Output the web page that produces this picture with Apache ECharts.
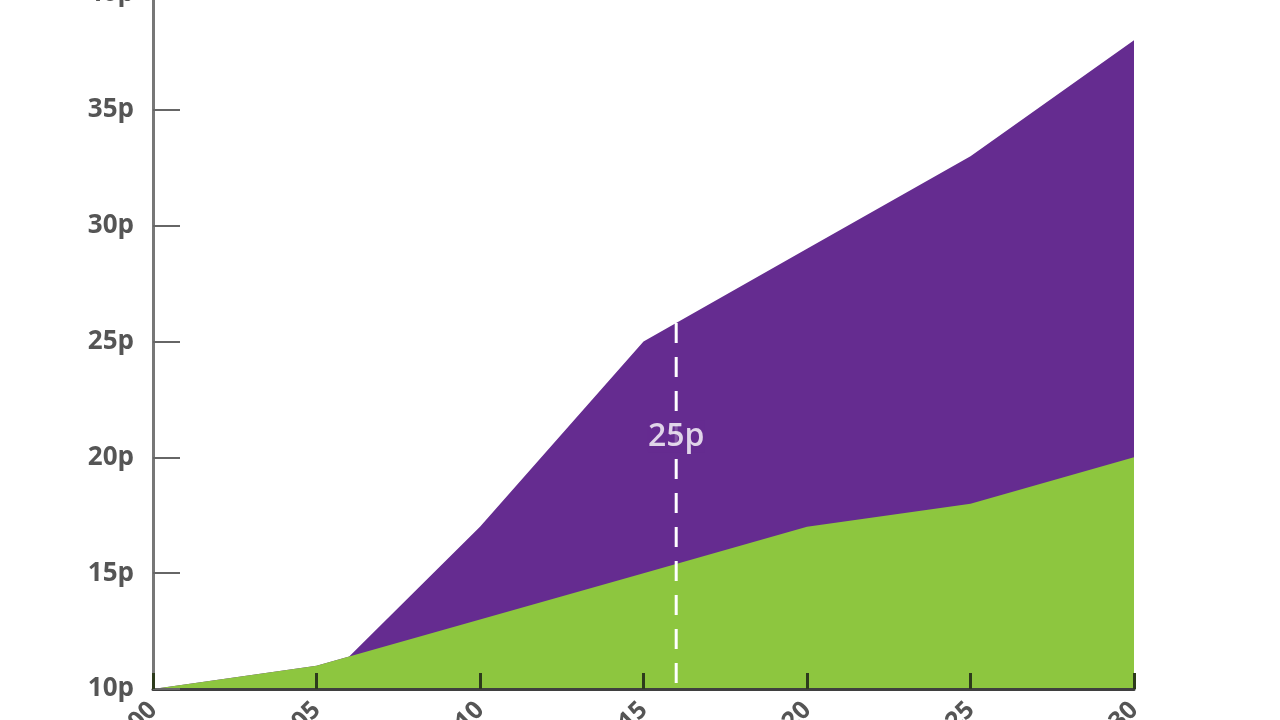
<!DOCTYPE html>
<html><head><meta charset="utf-8">
<style>html,body{margin:0;padding:0;background:#fff}#c{width:1280px;height:720px}</style>
<script src="https://cdn.jsdelivr.net/npm/echarts@6/dist/echarts.min.js"></script>
</head><body><div id="c"></div>
<script>
var years = [2000, 2005, 2010, 2015, 2020, 2025, 2030];
var greenValues = [10, 11, 13, 15, 17, 18, 20];
var purpleYears = [2000, 2005, 2006, 2010, 2015, 2020, 2025, 2030];
var purpleValues = [10, 11, 11.4, 17, 25, 29, 33, 38];
var markerYear = 2016;
var markerTop = 25.8;
var markerLabelValue = 20.9;
var markerText = '25p';

var chart = echarts.init(document.getElementById('c'));
var purple = '#652C90', green = '#8DC63F';
chart.setOption({
  animation: false,
  grid: { left: 153, right: 146, top: -6, bottom: 31, containLabel: false, outerBoundsMode: 'none' },
  xAxis: {
    type: 'value', min: 2000, max: 2030, interval: 5, z: 10,
    axisLine: { lineStyle: { color: '#3f3f3f', width: 3 } },
    axisTick: { inside: true, length: 16, lineStyle: { color: '#2d3b1c', width: 3 } },
    splitLine: { show: false },
    axisLabel: { rotate: 45, margin: 17, fontSize: 25, fontWeight: 'bold', color: '#555', fontFamily: 'Open Sans', formatter: function (v) { return String(v); } }
  },
  yAxis: {
    type: 'value', min: 10, max: 40, interval: 5, z: 10,
    axisLine: { show: true, lineStyle: { color: '#777', width: 3 } },
    axisTick: { show: true, inside: true, length: 27, lineStyle: { color: '#666', width: 2 } },
    splitLine: { show: false },
    axisLabel: { margin: 19, fontSize: 26, fontWeight: 'bold', color: '#555', fontFamily: 'Open Sans', formatter: '{value}p' }
  },
  series: [
    {
      type: 'line', z: 2, symbol: 'none', lineStyle: { width: 0 },
      areaStyle: { color: purple, opacity: 1, origin: 'start' },
      data: purpleYears.map(function (y, i) { return [y, purpleValues[i]]; })
    },
    {
      type: 'line', z: 3, symbol: 'none', lineStyle: { width: 0 },
      areaStyle: { color: green, opacity: 1, origin: 'start' },
      data: years.map(function (y, i) { return [y, greenValues[i]]; })
    },
    {
      type: 'line', z: 4, symbol: 'none',
      lineStyle: { color: '#fff', width: 3, type: [20, 14] },
      data: [[markerYear, markerTop], [markerYear, 10]]
    },
    {
      type: 'scatter', z: 5, symbolSize: 0,
      label: { show: true, position: 'inside', formatter: markerText, color: '#ffffff', fontSize: 32, fontFamily: 'Open Sans', fontWeight: 600, backgroundColor: purple, padding: [0, 0] },
      data: [[markerYear, markerLabelValue]]
    }
  ]
});
</script></body></html>
